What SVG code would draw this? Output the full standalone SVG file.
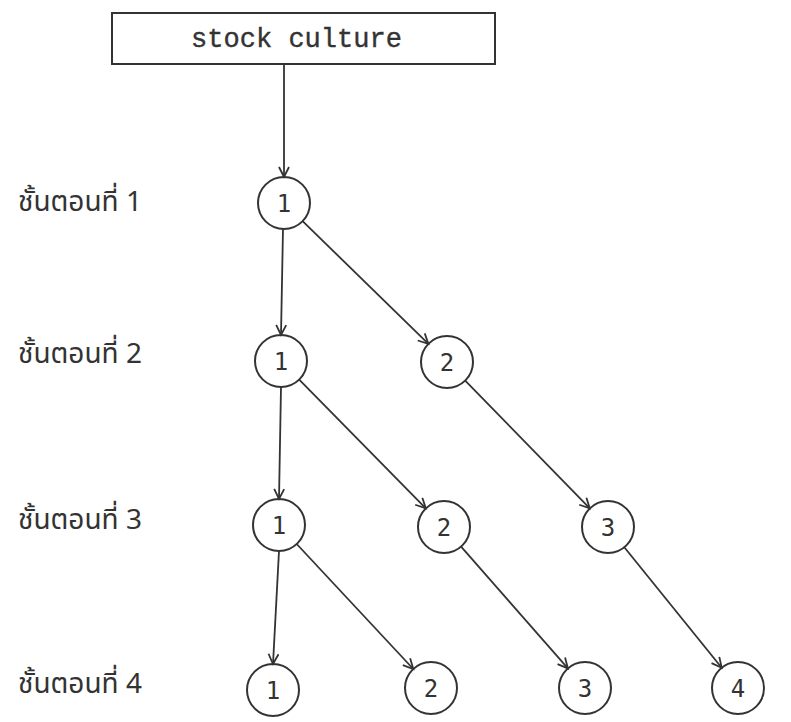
<svg xmlns="http://www.w3.org/2000/svg" width="791" height="722" viewBox="0 0 791 722">
<style>
.n{fill:none;stroke:#333;stroke-width:2}
.num{font-family:"DejaVu Sans Mono","Liberation Mono",monospace;font-size:24px;fill:#333;text-anchor:middle}
.lab{font-family:"Noto Sans Thai","Noto Sans","DejaVu Sans",sans-serif;font-size:28px;fill:#333}
.e{fill:none;stroke:#333;stroke-width:1.8;marker-end:url(#a)}
</style>
<defs>
<marker id="a" markerUnits="userSpaceOnUse" markerWidth="14" markerHeight="14" refX="11" refY="6" orient="auto">
<path d="M1,1 L11,6 L1,11" fill="none" stroke="#333" stroke-width="1.8"/>
</marker>
</defs>
<rect width="791" height="722" fill="#fff"/>
<g id="box">
<rect x="112" y="13" width="383" height="51" fill="none" stroke="#333" stroke-width="2"/>
<text x="191" y="47" font-family="Liberation Mono,monospace" font-size="28" fill="#333" textLength="211" lengthAdjust="spacingAndGlyphs" stroke="#333" stroke-width="0.4">stock culture</text>
</g>
<g id="labels">
<text class="lab" x="18" y="211">ชั้นตอนที่ 1</text>
<text class="lab" x="18" y="363">ชั้นตอนที่ 2</text>
<text class="lab" x="18" y="529">ชั้นตอนที่ 3</text>
<text class="lab" x="18" y="693">ชั้นตอนที่ 4</text>
</g>
<g id="c11"><circle class="n" cx="284" cy="203" r="26"/><text class="num" x="284" y="212">1</text></g>
<g id="c21"><circle class="n" cx="281" cy="361" r="26"/><text class="num" x="281" y="370">1</text></g>
<g id="c22"><circle class="n" cx="447" cy="362" r="26"/><text class="num" x="447" y="371">2</text></g>
<g id="c31"><circle class="n" cx="279" cy="525" r="26"/><text class="num" x="279" y="534">1</text></g>
<g id="c32"><circle class="n" cx="444" cy="527" r="26"/><text class="num" x="444" y="536">2</text></g>
<g id="c33"><circle class="n" cx="608" cy="527" r="26"/><text class="num" x="608" y="536">3</text></g>
<g id="c41"><circle class="n" cx="273" cy="690" r="26"/><text class="num" x="273" y="699">1</text></g>
<g id="c42"><circle class="n" cx="431" cy="688" r="26"/><text class="num" x="431" y="697">2</text></g>
<g id="c43"><circle class="n" cx="585" cy="688" r="26"/><text class="num" x="585" y="697">3</text></g>
<g id="c44"><circle class="n" cx="738" cy="688" r="26"/><text class="num" x="738" y="697">4</text></g>
<g id="connectors">
<line class="e" x1="284" y1="64" x2="284" y2="177"/>
<line class="e" x1="283" y1="229" x2="281" y2="335"/>
<line class="e" x1="302.6" y1="221.1" x2="428.4" y2="343.9"/>
<line class="e" x1="281" y1="387" x2="279" y2="499"/>
<line class="e" x1="299.2" y1="379.6" x2="425.8" y2="508.4"/>
<line class="e" x1="465.2" y1="380.6" x2="589.8" y2="508.4"/>
<line class="e" x1="279" y1="551" x2="273" y2="664"/>
<line class="e" x1="296.7" y1="544" x2="413.3" y2="669"/>
<line class="e" x1="461.1" y1="546.6" x2="567.9" y2="668.4"/>
<line class="e" x1="624.3" y1="547.2" x2="721.7" y2="667.8"/>
</g>
</svg>
